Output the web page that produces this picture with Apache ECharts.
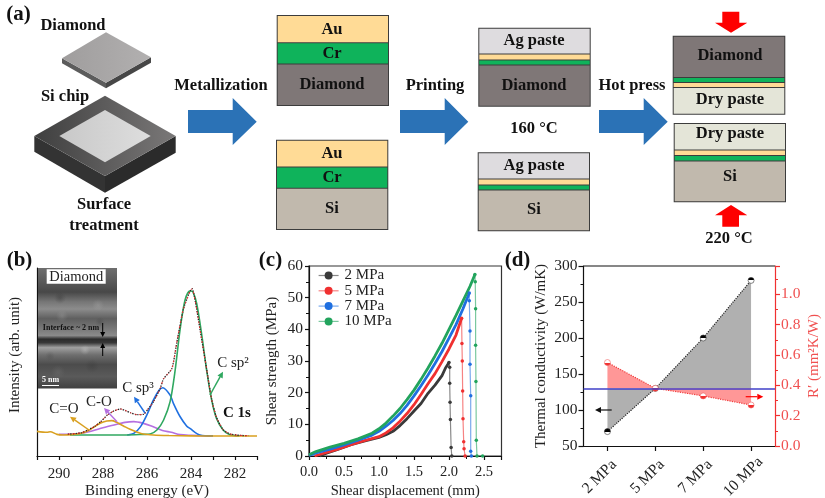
<!DOCTYPE html>
<html lang="en">
<head>
    <meta charset="UTF-8">
    <title>Diamond bonding</title>
    <script type="text/javascript" src="https://cdn.jsdelivr.net/npm/echarts@6/dist/echarts.min.js"></script>
    <style>
        html, body { margin: 0; padding: 0; background: #fff; }
        #container { width: 825px; height: 498px; }
    </style>
</head>
<body>
    <div id="container"></div>

    <script type="text/javascript">
        var SERIF = '"Liberation Serif", "DejaVu Serif", serif';

        // (b) XPS C 1s, [binding energy eV, intensity]
        var xpsEnvelope = [[289.6,11.6],[289,12.3],[288.7,13.8],[288.4,15.6],[288.1,18.3],[287.8,21.8],[287.5,24],[287.2,25],[287,24.3],[286.75,23],[286.45,22],[286.15,22.2],[285.95,25],[285.7,29],[285.4,36],[285.25,41],[284.87,46.5],[284.65,60],[284.35,78],[284.05,87.5],[283.95,89],[283.8,82],[283.6,68],[283.3,47],[283.06,30],[282.84,20.5],[282.54,14],[282.24,11.8],[281.8,11],[281.4,10.8]];
        var xpsCdoubleO = [[291,13.1],[290.54,12.6],[290.4,12.9],[290.09,11.5],[289.8,11.2],[289.34,11.5],[289.03,12],[288.73,13.1],[288.43,15.2],[288.13,17.4],[287.83,18.6],[287.6,18.8],[287.38,17.9],[287.07,16],[286.77,14.2],[286.47,12.8],[286.17,11.7],[285.72,11.2],[285,10.9],[284,10.7],[283,10.6],[282,10.6],[281,10.6]];
        var xpsCO = [[290,11.5],[289.3,11.7],[288.9,12.2],[288.5,13.3],[288,15],[287.5,16.5],[287,17.9],[286.6,18.3],[286.2,17.5],[285.8,16],[285.3,13.6],[284.9,12.6],[284.5,11.4],[284,11],[283.5,10.8],[283,10.6]];
        var xpsSp3 = [[286.9,11.2],[286.6,12],[286.3,15.5],[286,22],[285.7,30],[285.45,35],[285.28,36.3],[284.95,32.4],[284.8,28],[284.5,21],[284.2,16],[284.05,14.7],[283.6,11.2],[283,10.7]];
        var xpsSp2 = [[289.5,11.2],[287,11.2],[286.16,11.5],[285.86,11.7],[285.55,13.8],[285.25,19],[284.95,28.9],[284.72,45.7],[284.5,67],[284.27,83],[284.05,87.8],[283.92,87.4],[283.74,81],[283.5,63.5],[283.29,45.7],[283.06,29.8],[282.84,20],[282.54,13.8],[282.24,11.3],[281.8,10.6]];

        // (c) shear test, [displacement mm, strength MPa]
        var pressures = ['2 MPa', '5 MPa', '7 MPa', '10 MPa'];
        var shearColors = ['#3a3a3a', '#f03030', '#1f6fe0', '#22a45d'];
        var rise2 = [[0.15,0],[0.25,0.9],[0.4,2],[0.6,3.6],[0.8,4.8],[1,5.9],[1.1,6.7],[1.2,7.8],[1.3,9.6],[1.4,11.8],[1.5,14.2],[1.6,16.6],[1.7,19.8],[1.8,22.4],[1.9,25.4],[1.95,27.8],[2,29.5]];
        var rise5 = [[0.08,0],[0.2,0.8],[0.4,2.1],[0.6,3.6],[0.8,4.9],[1,6.1],[1.1,7.3],[1.2,8.9],[1.3,11],[1.4,13.4],[1.5,16.2],[1.6,19.4],[1.7,22.8],[1.8,26],[1.9,29.8],[2,33.8],[2.1,38.2],[2.18,43.5]];
        var rise7 = [[0,0.2],[0.1,1],[0.3,2.2],[0.5,3.5],[0.7,5],[0.9,6.6],[1,7.8],[1.1,9.4],[1.2,11.2],[1.3,13.4],[1.4,16],[1.5,19],[1.6,22.2],[1.7,25.6],[1.8,29.2],[1.9,33],[2,37.2],[2.1,41.5],[2.2,46.5],[2.29,51.5]];
        var rise10 = [[0,0.4],[0.1,1.4],[0.3,2.8],[0.5,4],[0.7,5.4],[0.9,7.2],[1,8.6],[1.1,10.4],[1.2,12.6],[1.3,15],[1.4,17.8],[1.5,20.8],[1.6,24.2],[1.7,27.8],[1.8,31.6],[1.9,35.6],[2,40],[2.1,44.4],[2.2,49],[2.3,53.6],[2.37,57.3]];
        var drop2 = [[2,29.5],[2.01,28],[2.01,23],[2.015,17],[2.02,11.5],[2.03,2.7],[2.04,0]];
        var drop5 = [[2.18,43.5],[2.185,35.5],[2.19,30],[2.195,20.5],[2.2,11.8],[2.21,4.5],[2.215,2.3],[2.23,0]];
        var drop7 = [[2.29,51.5],[2.29,49],[2.3,39.5],[2.3,29],[2.31,19],[2.31,1.5],[2.32,0]];
        var drop10 = [[2.37,57.3],[2.375,55],[2.38,46.5],[2.38,35],[2.385,23.5],[2.39,5],[2.4,0],[2.48,0]];

        // (d) thermal
        var conductivity = [70, 130, 200, 280];
        var resistance = [0.55, 0.38, 0.33, 0.27];
        var crossLevel = 130;
        var crossLevelR = 0.38;

        var BLUE_ARROW = '#2b72b6';
        var AU = '#ffdb96', CR = '#0fb35b', DIA = '#7f7777', SI = '#c1b9ad', AG = '#dedcdf', DRY = '#e4e5d8';

        var shapes = [];

        function text(str, x, y, size, bold, color, rotation) {
            shapes.push({
                type: 'text', z: 50, x: x, y: y, rotation: rotation || 0,
                style: {
                    text: str, fontFamily: SERIF, fontSize: size,
                    fontWeight: bold ? 'bold' : 'normal', fill: color || '#111',
                    textAlign: 'center', textVerticalAlign: 'middle', verticalAlign: 'middle'
                }
            });
        }
        function poly(points, fill, stroke, lw) {
            shapes.push({
                type: 'polygon', z: 50, shape: { points: points },
                style: { fill: fill, stroke: stroke || null, lineWidth: lw || 0 }
            });
        }
        function box(x0, y0, x1, y1, fill) {
            shapes.push({
                type: 'rect', z: 50, shape: { x: x0, y: y0, width: x1 - x0, height: y1 - y0 },
                style: { fill: fill }
            });
        }
        // a layered block, layers = [[top, bottom, color], ...]
        function stack(x0, x1, layers) {
            var top = layers[0][0], bot = layers[layers.length - 1][1];
            box(x0, top, x1, bot, '#3c3c3c');
            layers.forEach(function (l) {
                box(x0 + 1, l[0] + (l[0] === top ? 1 : 0.5), x1 - 1, l[1] - (l[1] === bot ? 1 : 0.5), l[2]);
            });
        }
        function blueArrow(x0, bodyEnd, tip) {
            poly([[x0,110],[bodyEnd,110],[bodyEnd,98],[tip,121.7],[bodyEnd,145],[bodyEnd,133],[x0,133]], BLUE_ARROW);
        }
        function thinArrow(x0, y0, x1, y1, color, lw, head) {
            var a = Math.atan2(y1 - y0, x1 - x0), h = head || 6;
            var bx = x1 - Math.cos(a) * h, by = y1 - Math.sin(a) * h;
            var nx = -Math.sin(a) * h * 0.5, ny = Math.cos(a) * h * 0.5;
            shapes.push({
                type: 'line', z: 50, shape: { x1: x0, y1: y0, x2: bx, y2: by },
                style: { stroke: color, lineWidth: lw }
            });
            poly([[x1,y1],[bx + nx,by + ny],[bx - nx,by - ny]], color);
        }
        function vGrad(stops) {
            return new echarts.graphic.LinearGradient(0, 0, 0, 1, stops.map(function (s) {
                return { offset: s[0], color: s[1] };
            }));
        }
        function hGrad(a, b) {
            return new echarts.graphic.LinearGradient(0, 0, 1, 0, [{ offset: 0, color: a }, { offset: 1, color: b }]);
        }
        // soft patch for the TEM inset texture
        function patch(cx, cy, rx, ry, rgb, alpha) {
            shapes.push({
                type: 'ellipse', z: 50, shape: { cx: cx, cy: cy, rx: rx, ry: ry },
                style: {
                    fill: new echarts.graphic.RadialGradient(0.5, 0.5, 0.5, [
                        { offset: 0, color: 'rgba(' + rgb + ',' + alpha + ')' },
                        { offset: 1, color: 'rgba(' + rgb + ',0)' }
                    ])
                }
            });
        }

        // panel (a): process schematic
        text('(a)', 18.5, 15, 21, true);
        text('Diamond', 73, 26, 16.5, true);
        poly([[62,58.3],[106,82.7],[106,88.3],[62,63.3]], '#5c5c5c');
        poly([[106,82.7],[151,57.3],[151,62.7],[106,88.3]], '#474747');
        poly([[106,32.3],[151,57.3],[106,82.7],[62,58.3]], hGrad('#9f9d9d', '#b2b0b0'));
        text('Si chip', 65, 97, 16.5, true);
        poly([[34.3,136],[105,176],[105,192.7],[34.3,151.7]], '#333333');
        poly([[105,176],[175.7,136],[175.7,152.7],[105,192.7]], '#2b2b2b');
        poly([[105,95.7],[175.7,136],[105,176],[34.3,136]], hGrad('#3f3f3f', '#7a7878'));
        poly([[105,110],[150.7,136],[105,162.3],[59.3,136]], hGrad('#c8c8c8', '#dedede'));
        text('Surface', 104, 205, 16.5, true);
        text('treatment', 104, 226, 16.5, true);

        text('Metallization', 221, 86, 16.5, true);
        blueArrow(188, 232.7, 256.7);
        stack(276.7, 389, [[15,42.7,AU],[42.7,64,CR],[64,106,DIA]]);
        text('Au', 332, 30, 16.5, true);
        text('Cr', 332, 54, 16.5, true);
        text('Diamond', 332, 85, 16.5, true);
        stack(276, 388.3, [[139.7,167,AU],[167,188.3,CR],[188.3,230,SI]]);
        text('Au', 332, 154, 16.5, true);
        text('Cr', 332, 178, 16.5, true);
        text('Si', 332, 209, 16.5, true);

        text('Printing', 435, 86, 16.5, true);
        blueArrow(400, 444.7, 468.3);
        stack(478.3, 590.7, [[27.7,54,AG],[54,60,AU],[60,65,CR],[65,106.7,DIA]]);
        text('Ag paste', 534, 41, 16.5, true);
        text('Diamond', 534, 86, 16.5, true);
        text('160 °C', 534, 129, 16.5, true);
        stack(477.7, 590, [[152.3,179,AG],[179,185,AU],[185,190,CR],[190,231.3,SI]]);
        text('Ag paste', 534, 166, 16.5, true);
        text('Si', 534, 210, 16.5, true);

        text('Hot press', 632, 86, 16.5, true);
        blueArrow(599, 643.7, 667.7);
        stack(672.7, 785.3, [[35.7,77.5,DIA],[77.5,82.5,CR],[82.5,87.5,AU],[87.5,114.7,DRY]]);
        text('Diamond', 730, 56, 16.5, true);
        text('Dry paste', 730, 100, 16.5, true);
        stack(673.7, 786, [[123,150,DRY],[150,155.5,AU],[155.5,161,CR],[161,202.3,SI]]);
        text('Dry paste', 730, 134, 16.5, true);
        text('Si', 730, 177, 16.5, true);
        text('220 °C', 729, 239, 16.5, true);
        poly([[722.3,11.7],[739.3,11.7],[739.3,22.7],[747.3,22.7],[731,32.7],[715,22.7],[722.3,22.7]], '#fe0000');
        poly([[731,205],[747.3,215.3],[739,215.3],[739,226.7],[722.3,226.7],[722.3,215.3],[715,215.3]], '#fe0000');

        // panel (b): TEM inset and labels
        text('(b)', 19.5, 261, 21, true);
        box(38, 268, 117, 388.6, vGrad([
            [0,'#6e6e6e'],[0.1,'#5c5c5c'],[0.2,'#484848'],[0.28,'#767676'],[0.34,'#8c8c8c'],[0.42,'#5f5f5f'],
            [0.5,'#777777'],[0.56,'#8a8a8a'],[0.59,'#2b2b2b'],[0.62,'#383838'],[0.66,'#a0a0a0'],[0.72,'#6f6f6f'],
            [0.8,'#4c4c4c'],[0.9,'#5a5a5a'],[1,'#404040']
        ]));
        patch(60, 298, 20, 6, '40,40,40', 0.3);
        patch(98, 305, 18, 6, '200,200,200', 0.2);
        patch(62, 316, 22, 6, '190,190,190', 0.22);
        patch(100, 322, 15, 5, '50,50,50', 0.25);
        patch(85, 350, 24, 5, '235,235,235', 0.25);
        patch(50, 356, 11, 5, '60,60,60', 0.25);
        patch(92, 366, 22, 7, '50,50,50', 0.28);
        patch(58, 372, 18, 7, '130,130,130', 0.25);
        box(46.7, 269.3, 105.7, 283.7, '#ffffff');
        text('Diamond', 76.2, 277, 14.5, false, '#222');
        text('Interface ~ 2 nm', 71, 328, 8, true, '#111');
        thinArrow(102.7, 323, 102.7, 337, '#000', 1, 5);
        thinArrow(102.7, 356, 102.7, 343, '#000', 1, 5);
        text('5 nm', 50.5, 380, 8, true, '#fff');
        box(42, 385, 59, 386, '#ffffff');

        text('C=O', 64, 409, 15, false, '#222');
        thinArrow(89, 430, 70, 416.7, '#d9a020', 1.5, 6);
        text('C-O', 99, 402, 15, false, '#222');
        thinArrow(117, 421.7, 104, 408, '#b56fe0', 1.5, 6);
        text('C sp³', 138, 388, 15, false, '#222');
        thinArrow(145, 413, 134, 396.7, '#2070e0', 1.5, 6);
        text('C sp²', 233, 363, 15, false, '#222');
        thinArrow(210, 395, 223, 371.7, '#30a860', 1.5, 6);
        text('C 1s', 237, 413, 15, true, '#111');

        // panels (c) and (d): letters and arrows
        text('(c)', 270.5, 261, 21, true);
        text('(d)', 517.5, 261, 21, true);
        thinArrow(611.7, 410, 595, 410, '#111', 1.2, 6);
        thinArrow(745.7, 396.7, 763.3, 396.7, '#fe0000', 1.2, 6);

        function axisFont(color) {
            return { fontFamily: SERIF, fontSize: 15, color: color || '#111' };
        }
        function axisLine(color) {
            return { show: true, onZero: false, lineStyle: { color: color || '#111', width: 1.2 } };
        }
        function ticks(color, len) {
            return { show: true, inside: false, length: len || 5, lineStyle: { color: color || '#111', width: 1.2 } };
        }
        function minor(color) {
            return { show: true, splitNumber: 2, length: 3, lineStyle: { color: color || '#111', width: 1 } };
        }
        function xpsLine(data, color) {
            return {
                type: 'line', xAxisIndex: 0, yAxisIndex: 0, data: data, showSymbol: false, smooth: 0.3,
                lineStyle: { color: color, width: 1.6 }, itemStyle: { color: color }
            };
        }
        function halfMarker(top, bottom) {
            return new echarts.graphic.LinearGradient(0, 0, 0, 1, [
                { offset: 0, color: top }, { offset: 0.5, color: top },
                { offset: 0.5, color: bottom }, { offset: 1, color: bottom }
            ]);
        }

        var riseData = [rise2, rise5, rise7, rise10];
        var dropData = [drop2, drop5, drop7, drop10];

        var series = [
            xpsLine(xpsCO, '#b56fe0'),
            xpsLine(xpsSp3, '#2070e0'),
            xpsLine(xpsSp2, '#30a860'),
            xpsLine(xpsCdoubleO, '#d9a020'),
            {
                type: 'line', xAxisIndex: 0, yAxisIndex: 0, data: xpsEnvelope, showSymbol: false, smooth: 0.2,
                lineStyle: { color: '#222', width: 1.3, type: 'dotted' }
            },
            {
                type: 'line', xAxisIndex: 0, yAxisIndex: 0, data: xpsEnvelope, showSymbol: false, smooth: 0.2,
                lineStyle: { color: '#ee3030', width: 1, type: [2, 3] }
            }
        ];

        pressures.forEach(function (p, i) {
            series.push({
                name: p, type: 'line', xAxisIndex: 1, yAxisIndex: 1, data: dropData[i],
                symbol: 'circle', symbolSize: 3.5, showAllSymbol: true,
                lineStyle: { color: shearColors[i], width: 1.2, opacity: 0.6 },
                itemStyle: { color: shearColors[i] }
            });
        });
        pressures.forEach(function (p, i) {
            series.push({
                name: p, type: 'line', xAxisIndex: 1, yAxisIndex: 1, data: riseData[i], showSymbol: false,
                lineStyle: { color: shearColors[i], width: 2.8 }, itemStyle: { color: shearColors[i] }
            });
        });

        series.push({
            type: 'line', xAxisIndex: 2, yAxisIndex: 2, data: conductivity, z: 3,
            symbol: 'circle', symbolSize: 6, showAllSymbol: true,
            itemStyle: { color: halfMarker('#000', '#fff'), borderColor: '#333', borderWidth: 0.6 },
            lineStyle: { color: '#222', width: 1.2, type: 'dotted' },
            areaStyle: { origin: crossLevel, color: '#b0b0b0', opacity: 1 }
        });
        series.push({
            type: 'line', xAxisIndex: 2, yAxisIndex: 3, data: resistance, z: 4,
            symbol: 'circle', symbolSize: 6, showAllSymbol: true,
            itemStyle: { color: halfMarker('#fff', '#f03030'), borderColor: '#f06060', borderWidth: 0.6 },
            lineStyle: { color: '#f04040', width: 1.2, type: 'dotted' },
            areaStyle: { origin: crossLevelR, color: '#ff9797', opacity: 1 },
            markLine: {
                silent: true, symbol: 'none', label: { show: false }, animation: false,
                lineStyle: { color: '#4040c8', width: 1.5, type: 'solid' },
                data: [{ yAxis: crossLevelR }]
            }
        });

        var option = {
            animation: false,
            backgroundColor: '#ffffff',
            textStyle: { fontFamily: SERIF },
            graphic: shapes,
            grid: [
                { left: 37, top: 268, width: 220, height: 188, outerBoundsMode: 'none' },
                { left: 309, top: 266, width: 192.5, height: 190, outerBoundsMode: 'none', show: true, borderColor: '#333', borderWidth: 1.2, backgroundColor: 'transparent' },
                { left: 583.5, top: 266, width: 191.5, height: 180, outerBoundsMode: 'none' }
            ],
            legend: {
                orient: 'vertical', left: 318, top: 268, itemWidth: 20, itemHeight: 10, itemGap: 0.3,
                data: pressures, selectedMode: false, padding: 0,
                lineStyle: { width: 1.2 },
                textStyle: { fontFamily: SERIF, fontSize: 15, color: '#222', padding: [0, 0, 0, 1], lineHeight: 15 }
            },
            xAxis: [
                {
                    gridIndex: 0, type: 'value', inverse: true, min: 281, max: 291, interval: 1,
                    name: 'Binding energy (eV)', nameLocation: 'middle', nameGap: 28,
                    nameTextStyle: axisFont('#222'), axisLine: axisLine(), axisTick: ticks('#111', 4), splitLine: { show: false },
                    axisLabel: {
                        fontFamily: SERIF, fontSize: 15, color: '#222', margin: 11, showMinLabel: true, showMaxLabel: true,
                        formatter: function (v) { return v % 2 === 0 ? String(v) : ''; }
                    }
                },
                {
                    gridIndex: 1, type: 'value', min: 0, max: 2.75, interval: 0.5,
                    name: 'Shear displacement (mm)', nameLocation: 'middle', nameGap: 28,
                    nameTextStyle: { fontFamily: SERIF, fontSize: 14.5, color: '#222' }, axisLine: axisLine(), axisTick: ticks('#111', 4), minorTick: minor(), splitLine: { show: false },
                    axisLabel: {
                        fontFamily: SERIF, fontSize: 14.5, color: '#222', margin: 9,
                        formatter: function (v) { return v > 2.5 ? '' : v.toFixed(1); }
                    }
                },
                {
                    gridIndex: 2, type: 'category', data: pressures,
                    axisLine: axisLine(), axisTick: { show: true, alignWithLabel: true, length: 5, lineStyle: { color: '#111', width: 1.2 } }, splitLine: { show: false },
                    axisLabel: {
                        fontFamily: SERIF, fontSize: 15.5, color: '#222', rotate: 45, interval: 0,
                        align: 'center', verticalAlign: 'middle', margin: 23, padding: [0, 22, 0, 0]
                    }
                }
            ],
            yAxis: [
                {
                    gridIndex: 0, type: 'value', min: 0, max: 100,
                    name: 'Intensity (arb. unit)', nameLocation: 'middle', nameGap: 14, nameRotate: 90,
                    nameTextStyle: { fontFamily: SERIF, fontSize: 15, color: '#222', padding: [0, 0, 0, 14] },
                    axisLine: axisLine(), axisTick: { show: false }, axisLabel: { show: false }, splitLine: { show: false }
                },
                {
                    gridIndex: 1, type: 'value', min: 0, max: 60, interval: 10,
                    name: 'Shear strength (MPa)', nameLocation: 'middle', nameGap: 29, nameRotate: 90,
                    nameTextStyle: axisFont('#222'), axisLine: axisLine(), axisTick: ticks('#111', 4), minorTick: minor(), splitLine: { show: false },
                    axisLabel: { fontFamily: SERIF, fontSize: 15.5, color: '#222', margin: 6 }
                },
                {
                    gridIndex: 2, type: 'value', min: 50, max: 300, interval: 50,
                    name: 'Thermal conductivity (W/mK)', nameLocation: 'middle', nameGap: 35, nameRotate: 90,
                    nameTextStyle: axisFont('#222'), axisLine: axisLine(), axisTick: ticks('#111', 5), minorTick: minor(), splitLine: { show: false },
                    axisLabel: { fontFamily: SERIF, fontSize: 15.5, color: '#222', margin: 6 }
                },
                {
                    gridIndex: 2, type: 'value', position: 'right', min: 0, max: 1.186, interval: 0.2,
                    name: 'R′ (mm²K/W)', nameLocation: 'middle', nameGap: 32, nameRotate: 90,
                    nameTextStyle: axisFont('#f05050'), axisLine: axisLine('#f03030'), axisTick: ticks('#f03030', 5), minorTick: minor('#f03030'), splitLine: { show: false },
                    axisLabel: {
                        fontFamily: SERIF, fontSize: 15.5, color: '#f05050', margin: 6,
                        formatter: function (v) { return v > 1.1 ? '' : v.toFixed(1); }
                    }
                }
            ],
            series: series
        };

        // top frame of (d), black like the left axis
        shapes.push({
            type: 'line', z: 50, shape: { x1: 583.5, y1: 266, x2: 775, y2: 266 },
            style: { stroke: '#111', lineWidth: 1.2 }
        });

        var myChart = echarts.init(document.getElementById('container'), null, { renderer: 'canvas' });
        myChart.setOption(option);
    </script>
</body>
</html>
